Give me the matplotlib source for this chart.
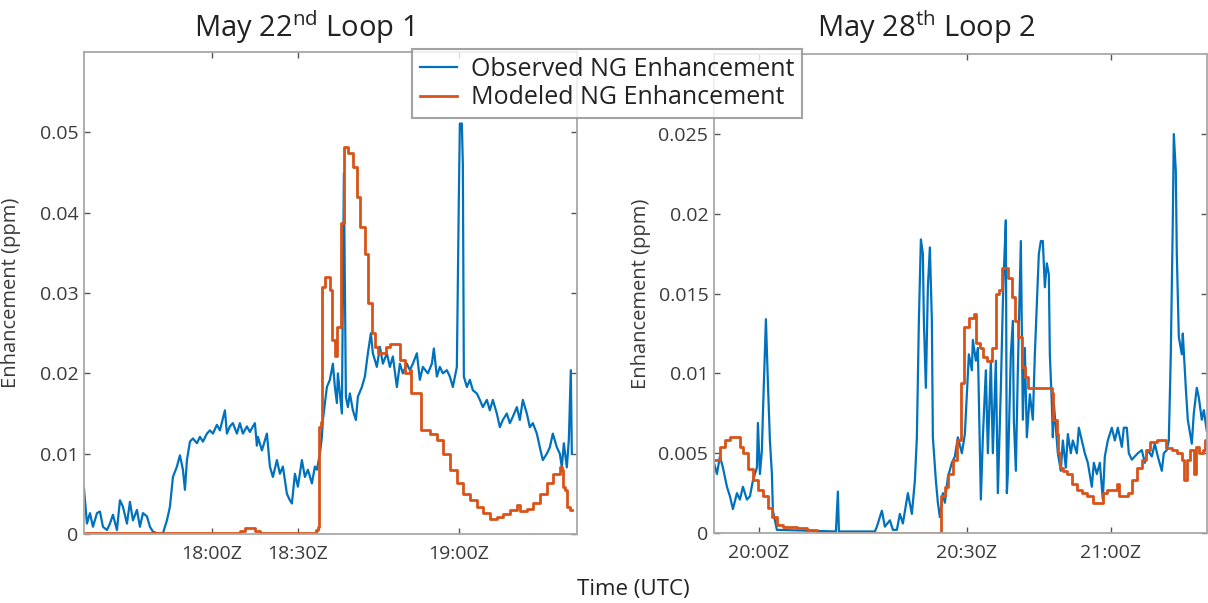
import matplotlib
matplotlib.use("Agg")
import matplotlib.pyplot as plt
import numpy as np

plt.rcParams['font.family'] = ['Open Sans', 'DejaVu Sans']
plt.rcParams['mathtext.fontset'] = 'custom'
plt.rcParams['mathtext.rm'] = 'Open Sans'
plt.rcParams['mathtext.it'] = 'Open Sans'

# x is the sample position along the flight track (arbitrary units 0..493)
# ---- May 22 loop 1 ----
obs1_x = [0, 3, 6, 9, 13, 16, 19, 23, 26, 29, 33, 36, 39, 43, 46, 49, 53, 56, 59, 63,
          66, 69, 73, 79, 83, 86, 89, 93, 96, 99, 101, 103, 106, 109, 113, 116, 119, 123,
          126, 129, 133, 136, 141, 143, 146, 149, 153, 156, 159, 163, 166, 169, 171, 173,
          174, 178, 183, 186, 189, 193, 196, 199, 203, 206, 208, 211, 214, 218, 221, 224,
          228, 231, 233, 236, 238, 239, 243, 246, 249, 251, 253, 254, 256, 258, 260, 262,
          264, 266, 269, 272, 274, 278, 281, 284, 287, 289, 293, 296, 299, 303, 306, 309,
          313, 316, 319, 323, 326, 329, 333, 336, 339, 344, 348, 350, 353, 356, 359, 363,
          366, 369, 373, 375, 376, 378, 379, 380, 383, 386, 389, 393, 396, 399, 403, 406,
          409, 413, 416, 419, 423, 426, 429, 433, 436, 439, 443, 446, 449, 453, 456, 459,
          463, 466, 469, 473, 476, 478, 480, 483, 485, 487, 488]
obs1_y = [0.0057, 0.0013, 0.0026, 0.0009, 0.0026, 0.0028, 0.0009, 0.0005, 0.0013, 0.0024,
          0.0005, 0.0042, 0.0034, 0.0013, 0.0040, 0.0017, 0.0030, 0.0009, 0.0026, 0.0022,
          0.0009, 0.0003, 0.0001, 0.0001, 0.0017, 0.0034, 0.0071, 0.0084, 0.0098, 0.0080,
          0.0055, 0.0092, 0.0115, 0.0119, 0.0113, 0.0121, 0.0115, 0.0125, 0.0129, 0.0125,
          0.0136, 0.0129, 0.0154, 0.0125, 0.0134, 0.0138, 0.0125, 0.0138, 0.0125, 0.0134,
          0.0127, 0.0134, 0.0138, 0.0110, 0.0121, 0.0104, 0.0125, 0.0084, 0.0071, 0.0092,
          0.0075, 0.0084, 0.0050, 0.0042, 0.0038, 0.0075, 0.0059, 0.0092, 0.0071, 0.0080,
          0.0063, 0.0084, 0.0080, 0.0100, 0.0121, 0.0142, 0.0183, 0.0192, 0.0212, 0.0183,
          0.0163, 0.0200, 0.0175, 0.0150, 0.0449, 0.0171, 0.0158, 0.0175, 0.0154, 0.0142,
          0.0171, 0.0183, 0.0196, 0.0225, 0.0250, 0.0225, 0.0208, 0.0233, 0.0212, 0.0225,
          0.0208, 0.0221, 0.0183, 0.0212, 0.0200, 0.0212, 0.0204, 0.0212, 0.0225, 0.0192,
          0.0208, 0.0200, 0.0212, 0.0231, 0.0196, 0.0208, 0.0200, 0.0204, 0.0196, 0.0183,
          0.0208, 0.0420, 0.0511, 0.0511, 0.0460, 0.0196, 0.0183, 0.0192, 0.0179, 0.0175,
          0.0167, 0.0158, 0.0167, 0.0154, 0.0167, 0.0150, 0.0133, 0.0142, 0.0150, 0.0138,
          0.0146, 0.0158, 0.0142, 0.0167, 0.0150, 0.0133, 0.0138, 0.0125, 0.0108, 0.0092,
          0.0100, 0.0108, 0.0125, 0.0108, 0.0100, 0.0083, 0.0113, 0.0083, 0.0117, 0.0204,
          0.0100]

mod1_x = [0, 150, 156, 161, 166, 171, 176, 228, 232, 234, 235, 237, 238, 241, 244, 246,
          248, 251, 253, 257, 260, 264, 269, 273, 276, 281, 284, 288, 291, 294, 302, 306,
          313, 316, 321, 326, 327, 336, 337, 346, 353, 359, 366, 373, 379, 386, 393, 399,
          406, 413, 419, 426, 433, 436, 443, 449, 456, 463, 469, 476, 478, 479, 481, 483,
          486, 488]
mod1_y = [0.0001, 0.0001, 0.0004, 0.0007, 0.0007, 0.0004, 0.0001, 0.0001, 0.0005, 0.0009,
          0.0133, 0.0140, 0.0308, 0.0320, 0.0320, 0.0304, 0.0241, 0.0221, 0.0258, 0.0387,
          0.0482, 0.0474, 0.0457, 0.0420, 0.0382, 0.0349, 0.0287, 0.0250, 0.0233, 0.0225,
          0.0233, 0.0237, 0.0237, 0.0217, 0.0200, 0.0204, 0.0175, 0.0175, 0.0129, 0.0125,
          0.0117, 0.0100, 0.0080, 0.0063, 0.0050, 0.0042, 0.0034, 0.0026, 0.0019, 0.0021,
          0.0025, 0.0030, 0.0036, 0.0029, 0.0031, 0.0038, 0.0050, 0.0063, 0.0075, 0.0084,
          0.0080, 0.0059, 0.0055, 0.0034, 0.0030, 0.0030]

ticks1 = [128, 214, 375]
ticklabels1 = ['18:00Z', '18:30Z', '19:00Z']

# ---- May 28 loop 2 ----
obs2_x = [0, 3, 6, 9, 13, 16, 19, 23, 26, 29, 33, 36, 39, 43, 44, 46, 48, 49, 52, 54,
          56, 58, 59, 63, 122, 124, 125, 161, 163, 168, 171, 176, 179, 183, 186, 189, 194,
          198, 201, 203, 205, 207, 209, 210, 212, 214, 216, 218, 219, 222, 224, 226, 229,
          231, 234, 238, 241, 244, 248, 251, 253, 255, 258, 259, 262, 264, 267, 269, 272,
          274, 277, 279, 282, 284, 287, 289, 290, 292, 293, 294, 297, 299, 300, 302, 304,
          307, 309, 311, 313, 316, 319, 321, 323, 325, 327, 329, 331, 333, 335, 336, 338,
          339, 340, 342, 344, 347, 349, 352, 354, 357, 359, 363, 365, 368, 371, 374, 378,
          380, 383, 386, 389, 391, 394, 398, 401, 404, 408, 410, 413, 415, 418, 421, 424,
          428, 431, 434, 438, 441, 444, 448, 450, 453, 455, 457, 459, 460, 462, 463, 465,
          468, 469, 472, 474, 478, 480, 483, 485, 488, 490, 493]
obs2_y = [0.0044, 0.0037, 0.0048, 0.0041, 0.0029, 0.0023, 0.0015, 0.0025, 0.0021, 0.0029,
          0.0021, 0.0023, 0.0033, 0.0041, 0.0069, 0.0037, 0.0052, 0.0075, 0.0134, 0.0094,
          0.0058, 0.0037, 0.0014, 0.0002, 0.0001, 0.0026, 0.0001, 0.0001, 0.0004, 0.0014,
          0.0004, 0.0008, 0.0002, 0.0002, 0.0012, 0.0006, 0.0025, 0.0012, 0.0033, 0.0060,
          0.0133, 0.0184, 0.0175, 0.0133, 0.0091, 0.0154, 0.0179, 0.0133, 0.0060, 0.0033,
          0.0019, 0.0010, 0.0025, 0.0019, 0.0035, 0.0044, 0.0048, 0.0060, 0.0050, 0.0062,
          0.0087, 0.0112, 0.0102, 0.0121, 0.0108, 0.0116, 0.0021, 0.0060, 0.0102, 0.0050,
          0.0108, 0.0050, 0.0108, 0.0025, 0.0091, 0.0144, 0.0164, 0.0196, 0.0025, 0.0037,
          0.0112, 0.0133, 0.0071, 0.0039, 0.0102, 0.0183, 0.0071, 0.0116, 0.0060, 0.0087,
          0.0071, 0.0112, 0.0144, 0.0175, 0.0183, 0.0183, 0.0154, 0.0169, 0.0162, 0.0112,
          0.0081, 0.0060, 0.0081, 0.0066, 0.0050, 0.0039, 0.0058, 0.0041, 0.0062, 0.0050,
          0.0058, 0.0050, 0.0066, 0.0058, 0.0050, 0.0044, 0.0029, 0.0044, 0.0037, 0.0044,
          0.0021, 0.0048, 0.0058, 0.0066, 0.0058, 0.0066, 0.0054, 0.0066, 0.0066, 0.0050,
          0.0046, 0.0048, 0.0050, 0.0052, 0.0044, 0.0052, 0.0048, 0.0056, 0.0048, 0.0039,
          0.0050, 0.0052, 0.0058, 0.0112, 0.0196, 0.0250, 0.0227, 0.0175, 0.0123, 0.0112,
          0.0125, 0.0091, 0.0071, 0.0056, 0.0075, 0.0091, 0.0085, 0.0071, 0.0077, 0.0064]

mod2_x = [0, 6, 11, 16, 26, 29, 34, 39, 44, 49, 54, 58, 63, 69, 83, 93, 103, 226, 227,
          231, 234, 239, 243, 247, 250, 255, 260, 262, 266, 269, 273, 278, 282, 285, 288,
          294, 298, 301, 304, 308, 311, 314, 338, 339, 343, 344, 346, 349, 353, 358, 363,
          368, 373, 379, 389, 393, 403, 405, 414, 418, 423, 428, 432, 436, 443, 452, 458,
          463, 468, 470, 473, 476, 480, 482, 485, 489, 491, 493]
mod2_y = [0.0046, 0.0054, 0.0058, 0.0060, 0.0054, 0.0050, 0.0040, 0.0033, 0.0027, 0.0023,
          0.0016, 0.0010, 0.0005, 0.0004, 0.0003, 0.0002, 0.0000, 0.0000, 0.0023, 0.0029,
          0.0037, 0.0046, 0.0058, 0.0094, 0.0129, 0.0135, 0.0137, 0.0119, 0.0116, 0.0110,
          0.0108, 0.0116, 0.0150, 0.0152, 0.0166, 0.0160, 0.0148, 0.0133, 0.0123, 0.0104,
          0.0098, 0.0091, 0.0088, 0.0071, 0.0062, 0.0050, 0.0041, 0.0039, 0.0037, 0.0031,
          0.0027, 0.0025, 0.0023, 0.0019, 0.0025, 0.0027, 0.0031, 0.0023, 0.0025, 0.0033,
          0.0041, 0.0046, 0.0052, 0.0057, 0.0058, 0.0053, 0.0052, 0.0050, 0.0046, 0.0033,
          0.0046, 0.0052, 0.0037, 0.0054, 0.0050, 0.0052, 0.0058, 0.0058]

ticks2 = [45, 253, 397]
ticklabels2 = ['20:00Z', '20:30Z', '21:00Z']

blue = '#0072BD'
orange = '#D95319'
spine_col = '#a8a8a8'
text_col = '#3a3a3a'

fig = plt.figure(figsize=(12.08, 6.03), dpi=100)
ax1 = fig.add_axes([0.0695, 0.1144, 0.408, 0.7993])
ax2 = fig.add_axes([0.591, 0.116, 0.408, 0.794])

panels = [
    (ax1, obs1_x, obs1_y, mod1_x, mod1_y, ticks1, ticklabels1, 0.06,
     [0, 0.01, 0.02, 0.03, 0.04, 0.05], ['0', '0.01', '0.02', '0.03', '0.04', '0.05']),
    (ax2, obs2_x, obs2_y, mod2_x, mod2_y, ticks2, ticklabels2, 0.03,
     [0, 0.005, 0.01, 0.015, 0.02, 0.025], ['0', '0.005', '0.01', '0.015', '0.02', '0.025']),
]

lines = []
for ax, ox, oy, mx, my, tk, tl, ytop, yt, ytl in panels:
    l1, = ax.plot(ox, oy, color=blue, lw=1.6, label='Observed NG Enhancement')
    l2, = ax.plot(mx, my, color=orange, lw=2.0, drawstyle='steps-post',
                  label='Modeled NG Enhancement')
    lines = [l1, l2]
    ax.set_xlim(0, 493)
    ax.set_ylim(0, ytop)
    ax.set_xticks(tk)
    ax.set_xticklabels(tl)
    ax.set_yticks(yt)
    ax.set_yticklabels(ytl)
    for s in ax.spines.values():
        s.set_color(spine_col)
        s.set_linewidth(1.3)
    ax.tick_params(direction='in', length=4, width=1, colors='#555555',
                   top=True, right=True, labelsize=14, labelcolor=text_col)
    ax.tick_params(axis='x', pad=8)
    ax.tick_params(axis='y', pad=4)
    ax.set_ylabel('Enhancement (ppm)', fontsize=14.5, color=text_col)
    ax.yaxis.set_label_coords(-0.127, 0.5)

fig.text(0.251, 0.955, r'May 22$^{\mathrm{nd}}$ Loop 1', ha='center', va='center',
         fontsize=21, color='#222222')
fig.text(0.767, 0.955, r'May 28$^{\mathrm{th}}$ Loop 2', ha='center', va='center',
         fontsize=21, color='#222222')
fig.text(0.524, 0.022, 'Time (UTC)', ha='center', va='center', fontsize=16, color='#222222')

leg = fig.legend(handles=lines, loc='upper left', bbox_to_anchor=(412 / 1208, 1 - 49 / 603),
                 fontsize=18, frameon=True, fancybox=False, handlelength=1.5,
                 handletextpad=0.55, borderpad=0.3, labelspacing=0.15, borderaxespad=0)
leg.get_frame().set_edgecolor('#8c8c8c')
leg.get_frame().set_linewidth(1.5)
for t in leg.get_texts():
    t.set_color('#222222')

fig.savefig('out.png', dpi=100)
